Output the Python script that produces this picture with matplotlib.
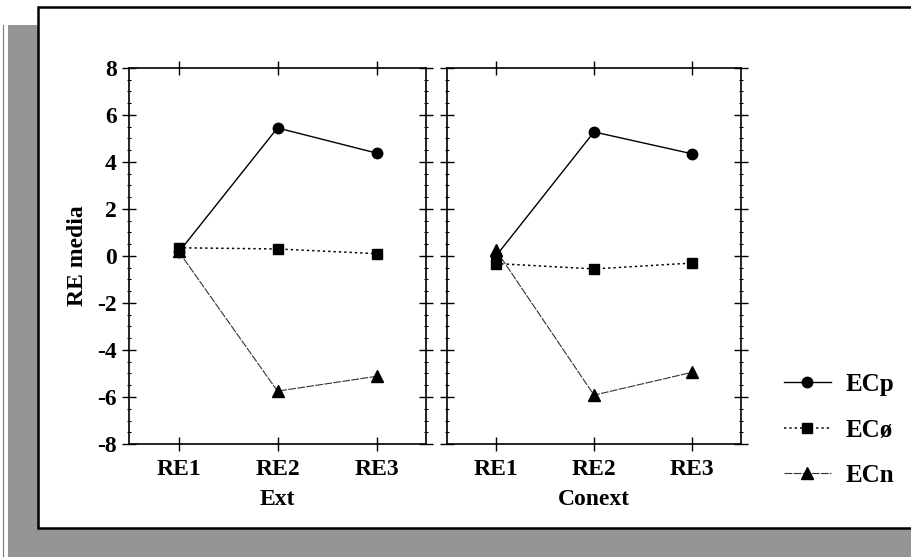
import matplotlib
matplotlib.use("Agg")
import matplotlib.pyplot as plt
from matplotlib.patches import Rectangle
from matplotlib.lines import Line2D
from matplotlib.ticker import MultipleLocator

plt.rcParams['font.family'] = ['Liberation Serif', 'DejaVu Serif']
plt.rcParams['font.weight'] = 'bold'
plt.rcParams['axes.unicode_minus'] = False

categories = ["RE1", "RE2", "RE3"]
panels = ["Ext", "Conext"]
series_names = ["ECp", "ECø", "ECn"]

ext_ecp = [0.15, 5.45, 4.38]
ext_eco = [0.35, 0.30, 0.10]
ext_ecn = [0.20, -5.75, -5.12]

conext_ecp = [0.00, 5.28, 4.35]
conext_eco = [-0.32, -0.55, -0.30]
conext_ecn = [0.25, -5.92, -4.95]

data = {
    "Ext": [ext_ecp, ext_eco, ext_ecn],
    "Conext": [conext_ecp, conext_eco, conext_ecn],
}

styles = [
    dict(color='black', linestyle='-', linewidth=1.0, marker='o', markersize=7.5),
    dict(color='black', linestyle=(0, (1.5, 2.0)), linewidth=1.1, marker='s', markersize=7.5),
    dict(color='#333333', linestyle=(0, (7, 1.2)), linewidth=0.8, marker='^', markersize=8),
]

W, H = 911, 557
fig = plt.figure(figsize=(W / 100, H / 100), dpi=100)

# background frame: shadow + white box
shadow = Rectangle((8 / W, 0), 1.0, 1 - 25 / H, transform=fig.transFigure,
                   facecolor='#959595', edgecolor='none', zorder=-10)
fig.patches.append(shadow)
fig.add_artist(Line2D([3 / W, 3 / W], [0, 1 - 25 / H], transform=fig.transFigure,
                      color='#777777', linewidth=0.8, zorder=-9))
box = Rectangle((38 / W, 1 - 528 / H), 1.0, (528 - 7) / H, transform=fig.transFigure,
                facecolor='white', edgecolor='black', linewidth=1.8, zorder=-8)
fig.patches.append(box)

ax_pos = [
    [129 / W, 1 - 444 / H, (426 - 129) / W, (444 - 68) / H],
    [447 / W, 1 - 444 / H, (741 - 447) / W, (444 - 68) / H],
]

x = list(range(len(categories)))
handles = []
for i, panel in enumerate(panels):
    ax = fig.add_axes(ax_pos[i])
    ax.patch.set_alpha(0)
    for j, vals in enumerate(data[panel]):
        ln, = ax.plot(x, vals, label=series_names[j], markerfacecolor='black',
                      markeredgecolor='black', zorder=3 + (2 - j), **styles[j])
        if i == 0:
            handles.append(ln)
    ax.set_xlim(-0.5, 2.5)
    ax.set_ylim(-8, 8)
    ax.set_xticks(x)
    ax.set_xticklabels(categories)
    ax.yaxis.set_major_locator(MultipleLocator(2))
    ax.yaxis.set_minor_locator(MultipleLocator(0.5))
    ax.tick_params(axis='both', which='major', direction='inout', length=10, width=1.0,
                   top=True, right=True, labelsize=17, pad=4)
    ax.tick_params(axis='x', which='major', pad=6)
    ax.tick_params(axis='y', which='minor', direction='inout', length=3, width=0.8,
                   right=True, left=True)
    ax.set_xlabel(panel, fontsize=17, fontweight='bold', labelpad=6)
    for sp in ax.spines.values():
        sp.set_linewidth(1.2)
    for lbl in ax.get_xticklabels() + ax.get_yticklabels():
        lbl.set_fontweight('bold')
    if i == 0:
        ax.set_ylabel("RE media", fontsize=17, fontweight='bold', labelpad=6)
    else:
        ax.tick_params(axis='y', labelleft=False)

fig.legend(handles=handles, labels=series_names, loc='center left',
           bbox_to_anchor=(771 / W, 1 - 430 / H), frameon=False,
           prop=dict(family='Liberation Serif', weight='bold', size=18),
           handlelength=1.9, handletextpad=0.6, labelspacing=0.9, borderpad=0)

fig.savefig("out.png", dpi=100)
